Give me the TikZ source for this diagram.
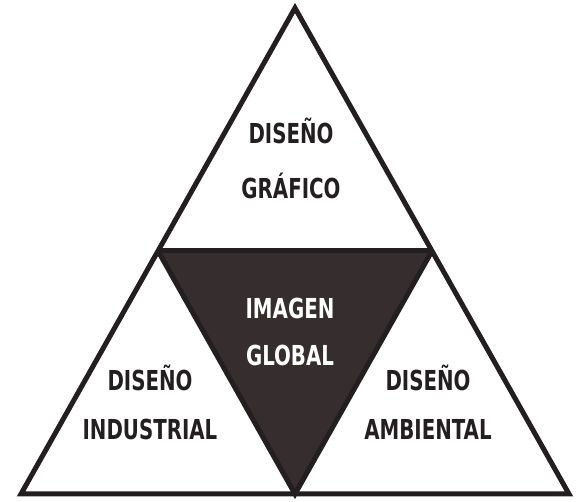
\documentclass[tikz,border=0pt]{standalone}
\usepackage{fontspec}
\setsansfont{DejaVu Sans Condensed}[FakeStretch=0.8]
\usepackage{tikz}
\usetikzlibrary{positioning,calc}

\definecolor{edgegray}{HTML}{231F20}
\definecolor{coregray}{HTML}{362D2F}

\begin{document}
\begin{tikzpicture}[
    x=1pt, y=-1pt,
    edge/.style={draw=edgegray, line width=5pt, line join=miter},
    core/.style={fill=coregray, draw=coregray, line width=1pt},
    label/.style={align=center, font=\sffamily\bfseries\fontsize{27.5}{49}\selectfont, text=edgegray, inner sep=0pt},
    corelabel/.style={label, text=white, font=\sffamily\bfseries\fontsize{27.5}{47}\selectfont},
]
\useasboundingbox (0,0) rectangle (579,502);

% outer corners and side midpoints
\coordinate (apex) at (295,8);
\coordinate (left) at (21,494);
\coordinate (right) at (569,494);
\coordinate (midL) at ($(apex)!0.5!(left)$);
\coordinate (midR) at ($(apex)!0.5!(right)$);
\coordinate (midB) at ($(left)!0.5!(right)$);

% centre triangle
\fill[core] (midL) -- (midR) -- (midB) -- cycle;

% outline
\draw[edge] (apex) -- (left) -- (right) -- cycle;
\draw[edge] (midL) -- (midR);
\draw[edge] (midL) -- (midB) -- (midR);

% texts
\node[label, font=\sffamily\bfseries\fontsize{27.5}{55}\selectfont] (grafico) at (291,158) {DISEÑO\\GRÁFICO};
\node[corelabel] (global) at (290,332) {IMAGEN\\GLOBAL};
\node[label] (industrial) at (150,402) {DISEÑO\\INDUSTRIAL};
\node[label] (ambiental) at (428,402) {DISEÑO\\AMBIENTAL};
\end{tikzpicture}
\end{document}
